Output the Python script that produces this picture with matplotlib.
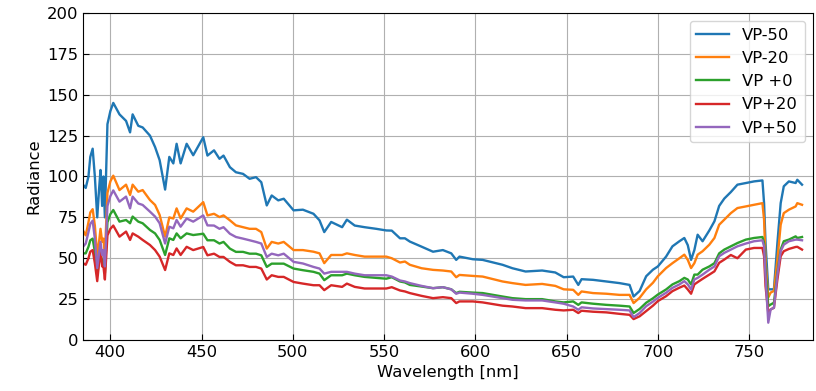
import matplotlib
matplotlib.use("Agg")
import matplotlib.pyplot as plt

# Sampled spectra (wavelength in nm, radiance per viewing-position setting)
wavelength = [
    385, 386.5, 388, 389, 390.3, 391.5, 392.8, 393.8, 394.6, 395.5, 396.2, 397, 398.4, 400, 401.6,
    405, 408.6, 410.8, 412.2, 415.3, 417.7, 421.7, 424.5, 427, 430, 432.3, 434.5, 436.3, 438.5, 441.8, 445.4,
    450.9, 453.2, 456.8, 459.8, 462, 465.5, 468.8, 472.7, 476.3, 479.8, 482.7, 485.7, 488.4, 492, 495,
    500.4, 505.5, 511.3, 514.6, 517.2, 521, 527, 529.6, 533.9, 539.3, 545.7, 551.2,
    554.2, 558.7, 561.4, 564.1, 570.5, 576.8, 582.2, 586.8, 589.5, 591.3, 598.6, 604, 614.9, 620.3,
    627.5, 636.6, 643.8, 648.4,
    653.6, 656.4, 658.2, 664.5, 671.8, 679, 684.5, 686.7, 690,
    693.6, 697.3, 700, 704.5, 708, 711.8, 714.5, 716.4, 718.2, 720, 721.8, 724.5, 728.2, 731, 733.6,
    736.4, 740, 743.6, 748.2, 752.7, 757.3, 758.2, 759, 760.5, 761.8, 763.6, 765.5, 767.3, 769, 771.8,
    775.5, 776.4, 779,
]

vp_m50 = [
    95, 93, 100, 112, 117, 100, 75, 92, 104, 82, 100, 75, 132, 140, 145,
    138, 134, 127, 138, 131, 130, 125, 118, 110, 92, 112, 108, 120, 108, 120, 113,
    124, 112.8, 116, 110.8, 112.8, 105.7, 102.6, 101.6, 98.6, 99.6, 96.5, 82.3, 88.4, 85.4, 86.4,
    79.3, 79.7, 77.2, 73.2, 66, 72.2, 69, 73.6, 70, 69, 68, 67,
    66.9, 62.2, 62.2, 60.2, 57.1, 54, 55, 53, 49, 51, 49.4, 49, 46, 43.9,
    41.9, 42.5, 41.3, 38.4,
    38.8, 33.7, 37.2, 36.8, 35.8, 34.8, 33.7, 26.6, 30,
    39, 43, 45, 51, 57.3, 60.4, 62.4, 58, 49, 55, 64.4, 60.4, 67, 72.6, 82,
    86.5, 90.5, 95, 96, 97, 97.6, 83.7, 59.3, 31, 31, 31, 59.3, 83.7, 94, 97,
    96, 98, 95,
]

vp_m20 = [
    67, 64, 72, 78, 80, 70, 52, 60, 68, 60, 62, 52, 90, 97, 100.5,
    91.7, 95, 88.7, 95, 90.7, 91.7, 85.6, 82.6, 76.5, 63.2, 75, 74.3, 80.5, 74.3, 80.5, 78.5,
    84.3, 76.2, 77.2, 75.2, 76.2, 73.2, 70.1, 69, 68, 68, 66, 55.9, 60, 59, 60,
    55, 55, 54, 53, 47, 52, 52, 53, 52, 51, 51, 51,
    50, 47.4, 48, 46, 43.9, 42.9, 42.5, 41.9, 38.4, 39.8, 39.2, 38.8, 35.8, 34.8,
    33.7, 34.3, 33.1, 31,
    30.7, 27.6, 29.7, 28.7, 28.3, 27.6, 27.6, 22.6, 25.8,
    31, 35, 39, 44, 47, 50, 52.2, 49, 44, 47, 52.2, 54.3, 58.3, 62.4, 70.5,
    73.6, 77.6, 80.7, 81.7, 82.7, 83.7, 73.6, 49, 26, 29, 30, 49, 70.5, 77.6, 79.7,
    81.7, 83.7, 82.7,
]

vp_0 = [
    53, 53, 57, 61, 62, 54, 40, 48, 54, 47, 49, 41, 72, 77, 79.5,
    72.4, 73.4, 71.4, 75.5, 72.4, 71.4, 67.3, 65.2, 61.2, 52, 62.2, 61.2, 65.2, 62.2, 65.2, 64.2,
    65, 61, 61, 59, 60, 55.9, 53.9, 53.9, 52.8, 52.8, 51.8, 44.7, 46.7, 46.7, 46.7,
    43.7, 42.7, 41.7, 40.6, 36.6, 39.6, 39.6, 40.6, 39.6, 38.6, 38, 37.5,
    38.4, 35.8, 35.2, 33.7, 32.7, 31.7, 32.3, 31, 28.7, 29.5, 29, 28.7, 26.6, 25.6,
    25, 25, 23.6, 23,
    23.6, 21.5, 23, 22.2, 21.5, 21, 20.5, 16.5, 19,
    22.8, 25.5, 27.8, 30.9, 34, 36, 38, 37, 34, 40, 40, 43, 45, 47, 53,
    55.3, 57.3, 59.3, 61.4, 62.4, 63, 59.3, 43, 20.7, 21.7, 22.8, 41, 55.3, 60.4, 61.4,
    63.4, 62.4, 63,
]

vp_p20 = [
    47, 46, 50, 54, 55, 47, 36, 47, 55, 45, 45, 37, 64, 68, 70,
    63.2, 66.3, 61.2, 65.2, 63.2, 61.2, 58.1, 55, 51, 42.8, 53, 52, 56, 52, 57, 55,
    56.9, 51.8, 52.8, 50.8, 50.8, 47.8, 45.7, 45.7, 44.7, 44.7, 43.7, 37, 39.6, 38.6, 38.6,
    35.5, 34.5, 33.5, 33.5, 30.5, 33.5, 32.5, 34.5, 32.5, 31.5, 31.5, 31.5,
    32.3, 30.3, 29.7, 28.7, 27, 25.6, 26.2, 25.6, 22.6, 23.6, 23.6, 23, 21, 20.5,
    19.5, 19.5, 18.5, 18.1,
    18.5, 16.5, 17.9, 17.3, 16.9, 16, 15.4, 12.8, 14.5,
    17.7, 21, 23.8, 26.8, 29.9, 32, 33.3, 30.9, 28.3, 34, 35.4, 37.4, 40, 42, 47.2,
    49.2, 52, 50, 55.3, 56.3, 56.3, 51.2, 33, 16.7, 18.7, 19.7, 37, 51.2, 54.3, 55.7,
    56.9, 57, 55.3,
]

vp_p50 = [
    57, 59, 66, 71, 73, 62, 44, 53, 60, 52, 55, 45, 82, 88, 91.5,
    84.6, 87.7, 80.5, 87.7, 83.5, 82.6, 78.5, 75.5, 71.4, 59, 69.3, 68.3, 73.4, 69.3, 74.3, 72.4,
    76.2, 70.1, 70, 68, 69, 65, 63, 62, 61, 60, 59, 50.8, 52.8, 51.8, 52.8,
    47.8, 46.8, 44.7, 43.7, 40.6, 41.7, 41.7, 41.7, 40.6, 39.6, 39.6, 39.6,
    38.8, 36.4, 35.8, 34.8, 33.1, 31.7, 32.3, 31, 28.3, 29, 28.3, 27.6, 25.6, 24.6,
    24.2, 24.2, 23, 22.2,
    20.5, 18.5, 20, 19.3, 18.9, 18.5, 18.1, 14, 16.5,
    20.7, 23.5, 25.8, 28.9, 31.9, 34, 36, 34, 30.9, 37, 38, 40, 43, 45, 51.2,
    53.3, 55.3, 57.3, 59, 60.4, 61, 57.3, 39, 10.6, 18.7, 19.7, 40, 54.3, 58.3, 60.4,
    61.4, 61.4, 61,
]

series = [
    ("VP-50", vp_m50),
    ("VP-20", vp_m20),
    ("VP +0", vp_0),
    ("VP+20", vp_p20),
    ("VP+50", vp_p50),
]

plt.rcParams["font.size"] = 11.8

fig = plt.figure(figsize=(8.16, 3.91), dpi=100)
ax = fig.add_axes([0.1017, 0.1304, 0.8946, 0.8364])

for label, values in series:
    ax.plot(wavelength, values, label=label, linewidth=1.7)

ax.set_xlim(385, 785)
ax.set_ylim(0, 200)
ax.set_yticks(range(0, 201, 25))
ax.set_xlabel("Wavelength [nm]")
ax.set_ylabel("Radiance")
ax.grid(True)
ax.tick_params(direction="in", length=4.5)
ax.legend(loc="upper right")

fig.savefig("out.png", dpi=100)
